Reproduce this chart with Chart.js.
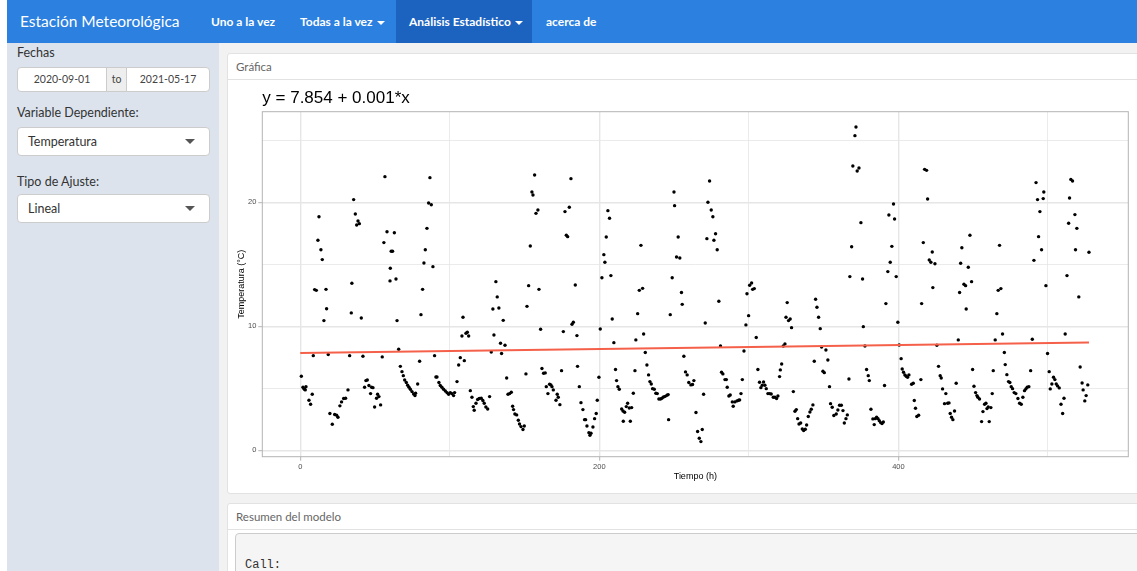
<!DOCTYPE html>
<html>
<head>
<meta charset="utf-8">
<script src="https://cdn.jsdelivr.net/npm/chart.js@4"></script>
<style>
  body { margin: 0; width: 1137px; height: 571px; overflow: hidden; background: #fff; font-family: 'Source Sans Pro', Lato, sans-serif; position: relative; }
  .abs { position: absolute; }
  #nav { left: 7px; top: 0; width: 1130px; height: 43px; background: #2b80e0; color: #fff; }
  #nav .it { position: absolute; top: 0; height: 43px; line-height: 43px; font-size: 12px; font-weight: bold; white-space: nowrap; }
  #nav .brand { font-size: 15.5px; font-weight: normal; }
  #nav .act { background: #1c63c0; }
  .caret { display: inline-block; width: 0; height: 0; border-left: 4px solid transparent; border-right: 4px solid transparent; border-top: 4px solid #fff; vertical-align: middle; margin-left: 4px; }
  #side { left: 7px; top: 43px; width: 212px; height: 528px; background: #dce3ed; color: #333; }
  .lbl { position: absolute; left: 10px; font-size: 12.5px; white-space: nowrap; }
  .box { position: absolute; background: #fff; border: 1px solid #ccc; box-sizing: border-box; font-size: 10.5px; color: #444; }
  .sel { left: 10px; width: 193px; height: 29px; border-radius: 4px; font-size: 12.5px; line-height: 27px; padding-left: 10px; color: #333; }
  .sel .tri { position: absolute; right: 14px; top: 11px; width: 0; height: 0; border-left: 5px solid transparent; border-right: 5px solid transparent; border-top: 5px solid #555; }
  #main { left: 219px; top: 43px; width: 918px; height: 528px; background: #f2f2f2; }
  .card { position: absolute; left: 227px; width: 930px; background: #fff; border: 1px solid #e2e2e2; border-radius: 3px; box-sizing: border-box; }
  .card .hd { height: 25px; line-height: 25px; padding-left: 8px; font-size: 11.5px; color: #666; border-bottom: 1px solid #e2e2e2; }
  #chartBox { position: absolute; left: 228px; top: 80px; width: 909px; height: 410px; }
  pre { position: absolute; left: 235px; top: 533px; width: 920px; height: 60px; margin: 0; background: #f5f5f5; border: 1px solid #ccc; border-radius: 4px; box-sizing: border-box; font-family: 'Liberation Mono', monospace; font-size: 12px; color: #333; padding: 24px 0 0 9px; }
</style>
</head>
<body>
<div id="nav" class="abs">
  <div class="it brand" style="left:13px">Estación Meteorológica</div>
  <div class="it" style="left:204px">Uno a la vez</div>
  <div class="it" style="left:293px">Todas a la vez<span class="caret"></span></div>
  <div class="it act" style="left:389px;width:136px;padding-left:13px;box-sizing:border-box">Análisis Estadístico<span class="caret"></span></div>
  <div class="it" style="left:539px">acerca de</div>
</div>
<div id="side" class="abs">
  <div class="lbl" style="top:2px">Fechas</div>
  <div class="box" style="left:10px;top:24px;width:90px;height:25px;line-height:23px;text-align:center;border-radius:4px 0 0 4px">2020-09-01</div>
  <div class="box" style="left:99px;top:24px;width:21px;height:25px;line-height:23px;text-align:center;background:#eee">to</div>
  <div class="box" style="left:119px;top:24px;width:84px;height:25px;line-height:23px;text-align:center;border-radius:0 4px 4px 0">2021-05-17</div>
  <div class="lbl" style="top:62px">Variable Dependiente:</div>
  <div class="box sel" style="top:84px">Temperatura<span class="tri"></span></div>
  <div class="lbl" style="top:131px">Tipo de Ajuste:</div>
  <div class="box sel" style="top:151px">Lineal<span class="tri"></span></div>
</div>
<div id="main" class="abs"></div>
<div class="card" style="top:53px;height:441px"><div class="hd">Gráfica</div></div>
<div class="card" style="top:503px;height:100px"><div class="hd">Resumen del modelo</div></div>
<pre>Call:</pre>
<div id="chartBox"><canvas id="grafica"></canvas></div>

<script>
// tiempo (h) y temperatura (°C)
const timeH = [
  0.7,1.8,2.5,2.9,3.3,3.8,5.8,6.9,8.0,8.7,9.6,10.7,11.8,12.5,13.8,14.7,15.8,17.2,17.6,18.7,
  19.8,21.4,23.0,24.3,25.2,26.5,27.6,29.0,30.3,31.9,33.0,34.1,34.5,35.7,36.8,37.7,38.6,39.5,40.8,41.9,
  43.0,43.9,44.8,45.9,47.0,47.7,48.6,49.7,51.0,51.7,52.6,53.7,54.8,55.9,56.6,58.0,60.0,60.2,60.8,61.7,
  62.9,64.0,64.7,65.8,
  66.9,68.0,68.9,69.8,70.9,71.8,72.7,73.6,74.7,75.8,76.7,77.1,78.5,79.8,80.7,81.8,82.7,83.6,84.7,85.8,
  86.7,87.6,88.7,89.8,90.7,91.4,92.7,93.6,94.7,95.8,97.0,98.1,99.2,100.3,101.4,102.5,103.2,104.8,105.9,107.0,
  108.1,108.8,109.7,110.8,111.7,112.6,113.7,114.8,115.7,116.3,117.5,118.6,119.7,121.0,122.1,123.0,124.1,125.3,126.6,127.7,
  128.8,129.5,130.8,131.7,132.8,133.9,134.6,135.7,136.9,138.0,138.9,140.0,141.1,142.0,142.6,143.5,144.7,145.8,146.6,147.6,
  148.9,149.8,150.9,151.6,152.7,153.8,154.9,155.6,156.7,157.6,158.9,159.6,160.7,161.6,162.7,
  163.8,164.5,165.6,166.7,167.6,168.3,169.2,171.0,171.8,172.5,173.6,174.7,175.9,177.0,177.9,178.8,179.9,181.0,181.7,182.6,
  183.9,185.0,185.4,186.6,187.7,189.0,190.1,190.8,191.7,193.0,193.7,194.4,195.7,196.8,197.9,198.6,199.7,200.6,201.7,203.0,
  203.7,204.6,205.7,206.8,207.7,208.6,209.7,210.8,211.5,212.4,213.3,214.9,215.8,216.0,216.9,218.0,218.9,220.0,220.7,221.6,
  222.7,223.8,224.4,225.6,226.7,227.8,228.9,229.6,230.7,231.8,232.9,233.8,234.7,235.6,236.7,237.8,238.7,239.8,240.9,241.8,
  242.9,244.0,245.2,246.0,246.3,247.4,248.7,249.9,250.3,251.6,252.7,253.8,254.9,255.4,256.5,257.6,258.7,259.8,
  261.2,262.3,263.2,264.6,265.7,266.8,267.9,268.8,269.7,270.8,271.9,272.6,273.7,274.8,275.9,276.6,277.7,278.8,279.9,281.0,
  281.7,282.6,284.0,284.9,285.5,286.6,287.5,288.9,289.5,290.6,292.0,293.1,293.8,294.7,295.6,296.7,298.0,298.7,299.8,300.5,
  301.8,302.5,303.6,304.9,306.0,307.1,308.0,308.9,309.8,310.7,311.6,312.7,313.8,314.9,316.3,317.4,318.5,319.4,320.5,321.0,
  321.9,323.0,324.1,324.8,325.6,326.5,327.6,328.5,329.7,330.8,331.7,332.6,333.5,334.6,335.7,336.6,337.7,338.6,339.7,340.8,
  341.7,342.8,343.7,344.6,345.5,346.6,347.7,348.6,349.5,350.4,351.5,352.8,353.9,354.6,355.7,356.8,
  358.4,359.5,360.6,361.8,362.9,363.8,364.9,365.8,366.9,367.5,368.7,369.5,370.9,371.6,372.4,373.6,374.9,376.0,376.5,377.6,
  378.7,379.8,380.5,381.6,382.9,383.8,384.5,385.4,386.3,387.2,388.1,389.0,389.9,390.7,391.6,392.9,393.6,394.5,395.6,396.7,
  397.4,398.5,399.6,400.5,401.8,402.5,403.4,404.3,405.2,406.1,407.0,408.8,409.9,410.6,411.4,412.3,413.5,415.0,415.5,416.6,
  417.5,418.8,419.5,420.6,421.7,422.6,423.0,424.4,425.7,426.8,427.9,428.6,429.5,430.8,431.7,432.9,433.8,434.6,435.5,436.4,
  437.5,438.6,440.0,440.9,441.6,442.4,443.8,444.9,445.3,446.7,447.8,448.9,449.6,450.5,451.6,452.5,453.1,454.2,
  455.6,456.5,457.6,458.5,459.2,460.0,460.7,461.8,462.7,463.4,464.7,465.8,466.7,467.6,468.5,469.6,470.8,471.4,472.5,473.6,
  474.5,475.4,476.3,477.4,478.5,479.9,481.0,482.1,483.2,484.3,485.2,486.1,487.2,488.4,489.5,490.6,492.0,493.0,493.7,494.6,
  495.7,496.8,497.2,498.6,499.7,500.8,501.5,502.6,503.7,504.6,505.5,506.4,507.5,508.7,509.8,510.7,511.5,512.7,513.8,514.4,
  515.3,516.4,518.0,518.4,519.3,520.6,521.5,522.8,523.5,524.6,525.5,526.6,527.4
];
const temperatura = [
  5.97,5.08,4.97,4.92,4.87,5.13,4.03,3.71,4.52,7.63,12.96,12.90,16.94,18.84,16.18,15.38,10.46,12.98,11.42,7.72,
  2.96,2.10,2.88,2.82,2.66,3.58,3.90,4.17,4.19,4.87,7.63,11.08,13.47,20.22,19.06,18.17,18.49,18.28,10.67,7.58,
  5.08,5.62,5.67,5.22,4.57,5.08,5.05,3.49,4.19,4.52,4.33,3.66,7.53,16.75,22.07,17.63,13.66,14.68,16.05,16.05,
  17.55,13.82,10.46,8.15,
  6.77,6.34,6.02,5.67,5.46,5.24,5.08,4.92,4.73,4.54,4.41,4.60,5.35,7.18,10.94,12.98,15.11,16.18,17.90,19.95,
  21.99,19.81,14.81,7.63,5.91,5.91,5.46,5.22,5.08,4.92,4.78,4.65,4.52,4.65,4.57,4.41,4.65,5.54,6.88,7.47,
  9.22,10.73,7.23,9.44,9.52,9.22,4.81,4.27,3.52,3.23,3.79,4.09,4.17,4.19,4.01,3.79,3.49,3.33,4.33,7.93,
  11.40,9.30,13.60,12.37,11.48,8.63,7.80,10.48,8.47,5.83,4.52,4.57,4.68,3.55,3.28,2.93,2.85,2.42,2.12,1.91,
  1.67,1.96,6.16,11.61,13.28,16.48,20.83,20.59,22.20,19.11,19.38,12.98,9.76,6.59,6.21,
  6.24,5.13,4.57,5.32,5.27,5.13,4.87,4.03,4.52,4.27,3.68,6.42,9.57,19.25,17.34,17.23,19.60,21.91,10.16,10.32,
  13.33,9.25,6.77,5.13,3.84,3.28,2.47,2.47,1.96,1.42,1.21,1.37,1.88,2.55,2.96,4.03,5.89,9.78,13.92,15.78,
  15.16,17.20,19.33,18.71,14.09,10.59,8.68,6.51,5.62,5.13,4.92,3.33,3.17,2.34,3.06,3.52,3.79,3.41,2.34,3.44,
  4.60,6.42,8.90,11.02,12.90,16.53,13.06,9.38,7.88,6.88,6.08,5.54,5.35,4.97,4.92,4.60,4.57,4.14,4.14,4.19,
  4.30,4.35,4.44,4.49,2.47,10.94,13.92,20.83,19.73,15.59,17.20,15.51,12.72,11.77,7.58,6.32,6.08,5.46,
  5.27,5.30,5.62,3.04,1.51,0.97,0.70,1.67,4.52,10.27,17.07,20.00,21.72,19.38,18.84,16.94,17.47,16.18,12.02,8.41,
  6.29,6.16,5.70,5.70,5.08,4.38,4.46,3.90,3.55,3.90,3.98,4.03,4.06,4.57,5.70,8.01,10.11,12.63,10.86,13.31,
  13.49,12.98,13.04,9.09,6.51,5.48,5.05,5.24,5.51,5.24,4.97,4.57,4.57,4.54,4.27,4.27,4.17,4.38,5.94,6.48,
  6.96,8.41,8.58,10.73,11.91,10.46,10.59,9.89,4.73,3.15,3.28,2.55,2.12,2.20,1.72,1.59,1.69,2.04,2.72,3.09,
  3.31,3.66,7.18,12.18,11.53,10.73,9.81,8.33,6.37,6.26,8.09,7.28,5.13,3.76,3.47,2.80,
  2.93,3.25,3.63,3.63,3.20,2.20,2.55,2.85,5.75,14.01,16.42,22.93,25.38,26.08,22.53,22.77,18.36,13.82,9.97,8.41,
  6.51,6.02,5.62,3.31,2.53,2.07,2.55,2.66,2.55,2.39,2.23,2.15,2.28,5.22,11.83,14.41,18.98,15.16,16.45,19.87,
  18.66,14.01,10.32,8.49,7.39,6.56,6.29,6.08,5.97,5.89,6.08,5.32,5.40,4.01,3.39,2.72,2.82,5.70,11.83,16.75,
  22.66,22.58,20.27,15.35,15.16,15.99,13.12,15.05,8.47,6.77,6.02,5.83,4.95,3.76,4.57,3.79,3.82,2.96,2.66,2.47,
  3.17,5.40,8.90,12.72,15.08,16.34,13.39,13.28,11.40,14.76,17.34,13.60,6.51,5.16,4.65,4.41,4.27,4.14,
  2.31,3.12,3.71,3.79,3.36,3.49,2.31,3.44,4.57,6.42,8.90,11.02,12.90,16.53,13.04,9.38,7.88,6.91,6.10,5.54,
  5.46,5.13,4.97,4.65,4.57,4.17,3.79,3.71,4.27,4.81,4.95,5.08,5.13,6.42,8.95,15.32,21.59,20.22,17.23,19.25,
  16.18,20.30,20.83,13.28,7.80,6.34,4.95,5.35,5.89,5.70,5.35,5.19,5.03,3.71,2.96,4.19,9.38,14.09,18.31,20.35,
  21.85,21.72,19.01,16.18,17.90,12.37,6.72,5.43,4.87,3.98,4.41,5.27,15.97
];
// recta ajustada (extremos)
const fitX = [0, 527.4];
const fitY = [7.854, 8.70];
const ecuacion = 'y = 7.854 + 0.001*x';

const xTicks = [0, 100, 200, 300, 400, 500];
const xMajor = [0, 200, 400];
const yTicks = [0, 5, 10, 15, 20, 25];
const yMajor = [0, 10, 20];

const puntos = timeH.map((t, i) => ({ x: t, y: temperatura[i] }));
const recta = fitX.map((t, i) => ({ x: t, y: fitY[i] }));

const panelBorder = {
  id: 'panelBorder',
  beforeDatasetsDraw(chart) {
    const a = chart.chartArea, ctx = chart.ctx;
    ctx.save();
    ctx.strokeStyle = '#b3b3b3';
    ctx.lineWidth = 1;
    ctx.strokeRect(a.left, a.top, a.right - a.left, a.bottom - a.top);
    ctx.restore();
  }
};

const tickFont = { family: 'Liberation Sans', size: 7.5 };

new Chart(document.getElementById('grafica'), {
  type: 'scatter',
  data: {
    datasets: [{
      type: 'line',
      data: recta,
      borderColor: '#f5604a',
      borderWidth: 2,
      pointRadius: 0,
      fill: false
    }, {
      data: puntos,
      backgroundColor: '#000',
      borderWidth: 0,
      pointRadius: 1.7
    }]
  },
  options: {
    responsive: true,
    maintainAspectRatio: false,
    animation: false,
    layout: { padding: { left: 0, right: 8.7, top: 0, bottom: 0 } },
    plugins: {
      legend: { display: false },
      tooltip: { enabled: false },
      title: {
        display: true,
        text: ecuacion,
        align: 'start',
        fullSize: false,
        color: '#000',
        font: { family: 'Liberation Sans', size: 17, weight: 'normal' },
        padding: { top: 8, bottom: 3.3 }
      }
    },
    scales: {
      x: {
        type: 'linear',
        min: -25.4,
        max: 553.7,
        afterBuildTicks: s => { s.ticks = xTicks.map(v => ({ value: v })); },
        afterFit: s => { s.height = 33.3; },
        border: { display: false },
        grid: {
          color: '#e6e6e6',
          lineWidth: c => xMajor.includes(c.tick && c.tick.value) ? 1.4 : 0.8,
          tickLength: 4,
          tickColor: c => xMajor.includes(c.tick && c.tick.value) ? '#b3b3b3' : 'rgba(0,0,0,0)',
          tickWidth: 1
        },
        ticks: {
          color: '#4d4d4d',
          font: tickFont,
          padding: 2,
          maxRotation: 0,
          callback: v => xMajor.includes(v) ? String(v) : ''
        },
        title: {
          display: true,
          text: 'Tiempo (h)',
          color: '#000',
          font: { family: 'Liberation Sans', size: 9 },
          padding: { top: 0, bottom: 7.6 }
        }
      },
      y: {
        type: 'linear',
        min: -0.52,
        max: 27.31,
        afterBuildTicks: s => { s.ticks = yTicks.map(v => ({ value: v })); },
        afterFit: s => { s.width = 34.3; },
        border: { display: false },
        grid: {
          color: '#e6e6e6',
          lineWidth: c => yMajor.includes(c.tick && c.tick.value) ? 1.4 : 0.8,
          tickLength: 4,
          tickColor: c => yMajor.includes(c.tick && c.tick.value) ? '#b3b3b3' : 'rgba(0,0,0,0)',
          tickWidth: 1
        },
        ticks: {
          color: '#4d4d4d',
          font: tickFont,
          padding: 2,
          callback: v => yMajor.includes(v) ? String(v) : ''
        },
        title: {
          display: true,
          text: 'Temperatura (°C)',
          color: '#000',
          font: { family: 'Liberation Sans', size: 9 },
          padding: { top: 8.6, bottom: 0 }
        }
      }
    }
  },
  plugins: [panelBorder]
});
</script>
</body>
</html>
